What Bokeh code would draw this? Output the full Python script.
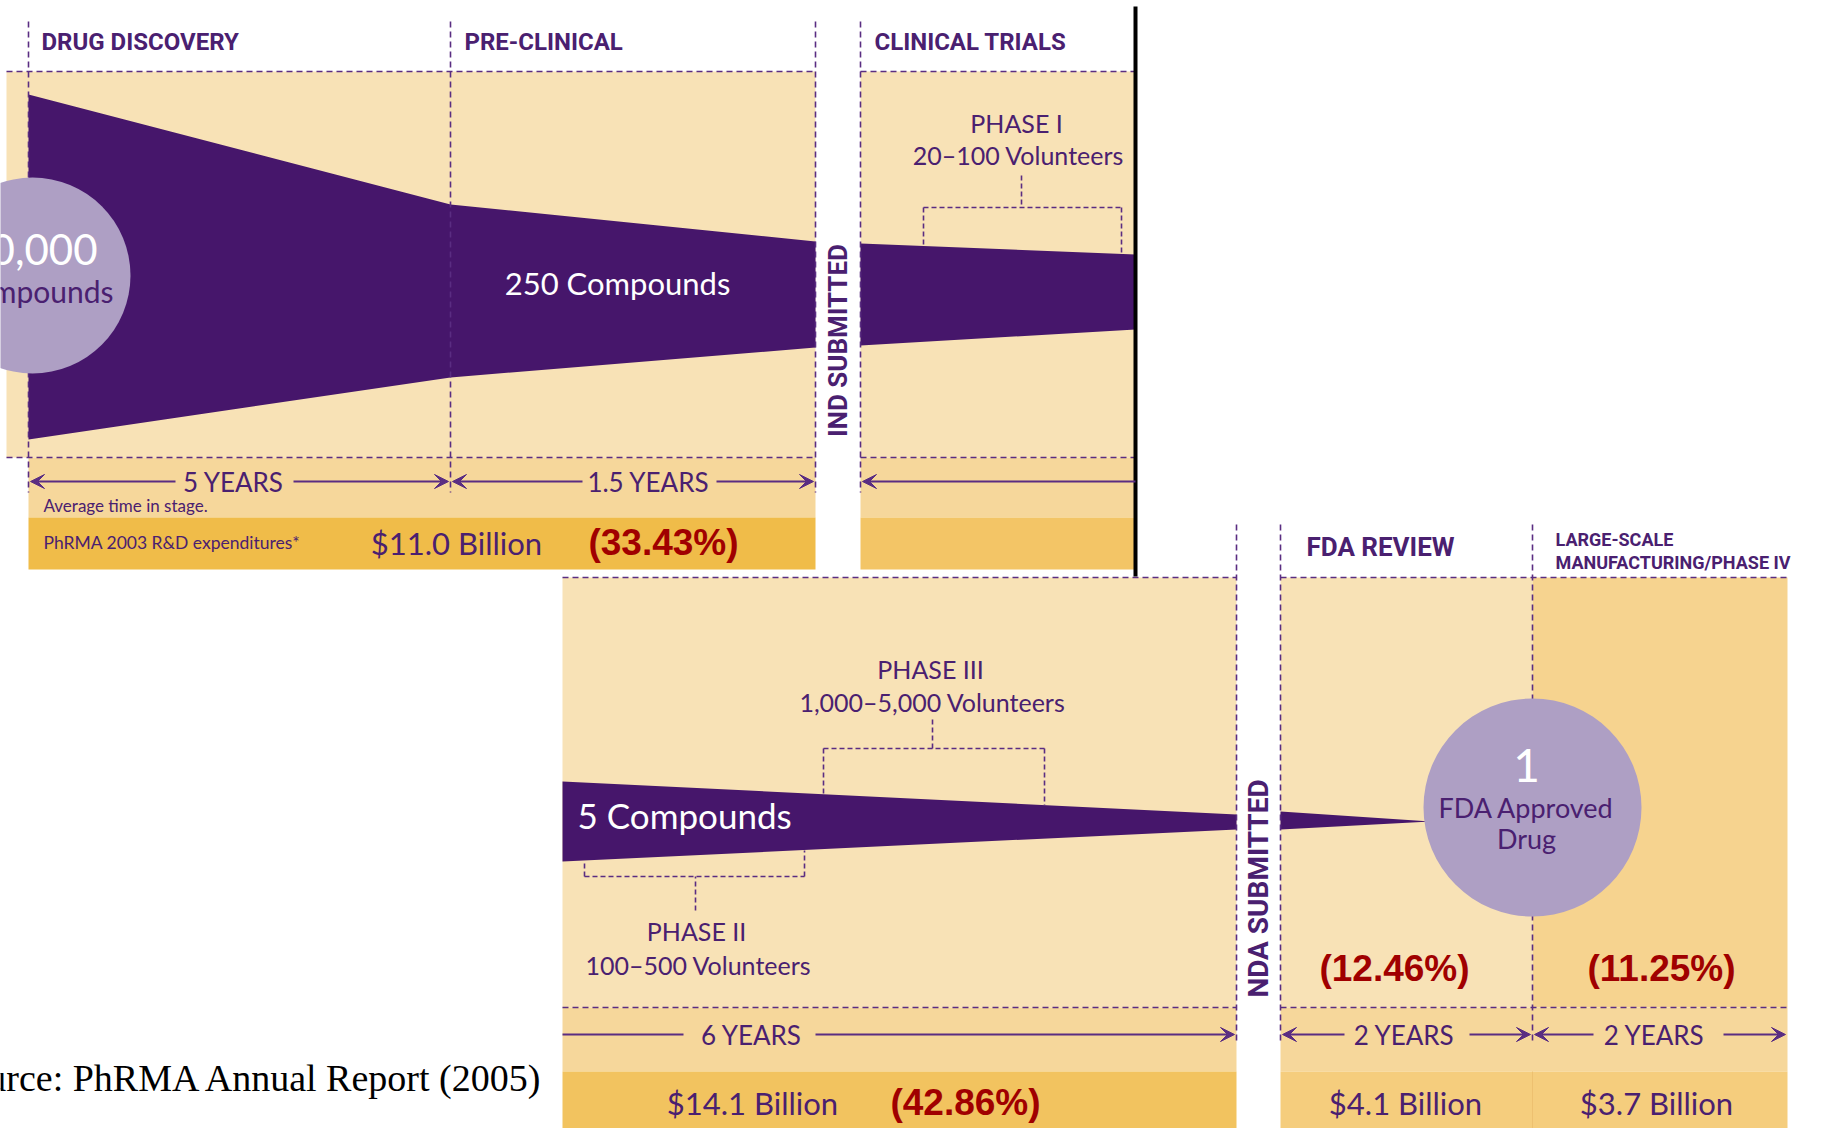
import math
from bokeh.plotting import figure
from bokeh.models import Range1d, Arrow, VeeHead
from bokeh.core.properties import value
from bokeh.embed import file_html
from bokeh.resources import INLINE

# ---------------- data ----------------
stage_names = ["DRUG DISCOVERY", "PRE-CLINICAL", "CLINICAL TRIALS", "FDA REVIEW",
               "LARGE-SCALE", "MANUFACTURING/PHASE IV"]
stage_years = ["5 YEARS", "1.5 YEARS", "6 YEARS", "2  YEARS", "2  YEARS"]
spend_labels = ["$11.0 Billion", "$14.1 Billion", "$4.1 Billion", "$3.7 Billion"]
share_labels = ["(33.43%)", "(42.86%)", "(12.46%)", "(11.25%)"]
compound_labels = ["10,000", "Compounds", "250 Compounds", "5 Compounds", "1", "FDA Approved", "Drug"]
phase_labels = ["PHASE I", "20\u2013100 Volunteers", "PHASE II", "100\u2013500 Volunteers",
                "PHASE III", "1,000\u20135,000 Volunteers"]
milestones = ["IND SUBMITTED", "NDA SUBMITTED"]
notes = ["Average time in stage.", "PhRMA 2003 R&D expenditures*", "Source: PhRMA Annual Report (2005)"]

# ---------------- layout / styles ----------------
TAN = "#F8E2B6"
TAN2 = "#F6D38F"
YROW = "#F6D79B"
EXP1 = "#F0BC49"
EXP2 = "#F3C566"
EXP3 = "#F2C35F"
EXP4 = "#F5CD7D"
PURPLE = "#46166B"
TXT = "#4A2070"
LINEP = "#5A2D82"
CIRC = "#AE9FC4"
RED = "#A00000"
BODY = value("Lato")
COND = value("Roboto")

W, H = 1825, 1128
p = figure(width=W, height=H, x_range=Range1d(0, W), y_range=Range1d(H, 0),
           toolbar_location=None, output_backend="svg", min_border=0,
           x_axis_location=None, y_axis_location=None, background_fill_color="white",
           border_fill_color="white")
p.grid.visible = False
p.outline_line_color = None

# backgrounds
p.quad(left=[6, 860], right=[815, 1135], top=[71, 71], bottom=[457, 457], fill_color=TAN, line_color=None)
p.quad(left=[28, 860], right=[815, 1135], top=[457, 457], bottom=[517, 517], fill_color=YROW, line_color=None)
p.quad(left=[28, 860], right=[815, 1135], top=[517, 517], bottom=[569, 569],
       fill_color=[EXP1, EXP2], line_color=None)

p.quad(left=[562, 1280, 1532], right=[1236, 1532, 1787], top=[577] * 3, bottom=[1007] * 3,
       fill_color=[TAN, TAN, TAN2], line_color=None)
p.quad(left=[562, 1280], right=[1236, 1787], top=[1007] * 2, bottom=[1071] * 2, fill_color=YROW, line_color=None)
p.quad(left=[562, 1280, 1532], right=[1236, 1532, 1787], top=[1071] * 3, bottom=[1130] * 3,
       fill_color=[EXP3, EXP4, EXP4], line_color=None)
p.segment(x0=[1532], y0=[1071], x1=[1532], y1=[1130], line_color="#EDC070", line_width=1)

# funnel shapes
p.patch([28, 450, 815, 815, 450, 28], [94, 204, 241, 347, 377, 439], fill_color=PURPLE, line_color=None)
p.patch([860, 1135, 1135, 860], [243, 254, 329, 345], fill_color=PURPLE, line_color=None)
p.patch([562, 1236, 1236, 562], [781, 814, 829, 861], fill_color=PURPLE, line_color=None)
p.patch([1280, 1430, 1280], [811, 821, 829], fill_color=PURPLE, line_color=None)

# dashed guides
dash = dict(line_color=LINEP, line_width=1.6, line_dash="6 4")
hx0 = [6, 860, 6, 860, 562, 1280, 562, 1280]
hx1 = [815, 1135, 815, 1135, 1236, 1787, 1236, 1787]
hy = [71, 71, 457, 457, 577, 577, 1007, 1007]
p.segment(x0=hx0, y0=hy, x1=hx1, y1=hy, **dash)
vx = [28, 450, 815, 860, 1236, 1280, 1532]
vy0 = [21, 21, 21, 21, 524, 524, 524]
vy1 = [492, 492, 492, 492, 1042, 1042, 1042]
p.segment(x0=vx, y0=vy0, x1=vx, y1=vy1, **dash)

# phase brackets
bx0 = [1021, 923, 923, 1121, 932, 823, 823, 1044, 695, 584, 584, 804]
by0 = [175, 207, 207, 207, 719, 748, 748, 748, 910, 876, 876, 876]
bx1 = [1021, 1121, 923, 1121, 932, 1044, 823, 1044, 695, 804, 584, 804]
by1 = [207, 207, 246, 253, 748, 748, 794, 805, 876, 876, 862, 850]
p.segment(x0=bx0, y0=by0, x1=bx1, y1=by1, line_color=LINEP, line_width=1.6, line_dash="5 3")

# black divider
p.segment(x0=[1135], y0=[6], x1=[1135], y1=[576], line_color="black", line_width=4)

# circles
p.circle(x=[32, 1532], y=[275, 807], radius=[98, 109], fill_color=CIRC, line_color=None)

# arrows (year spans)
arrows = [
    (175, 481, 30, 481), (293, 481, 448, 481),
    (582, 481, 452, 481), (716, 481, 813, 481),
    (1135, 481, 862, 481),
    (815, 1034, 1234, 1034),
    (1344, 1034, 1282, 1034), (1469, 1034, 1530, 1034),
    (1593, 1034, 1534, 1034), (1723, 1034, 1785, 1034),
]
for xs, ys, xe, ye in arrows:
    p.add_layout(Arrow(end=VeeHead(size=14, fill_color=LINEP, line_color=LINEP, line_width=1),
                       x_start=xs, y_start=ys, x_end=xe, y_end=ye,
                       line_color=LINEP, line_width=2))
p.segment(x0=[562], y0=[1034], x1=[683], y1=[1034], line_color=LINEP, line_width=2)

# ---------------- texts ----------------
# stage headers
p.text(x=[41, 464, 874], y=[41, 41, 41], text=stage_names[:3], text_font=COND,
       text_font_style="bold", text_font_size="24px", text_color=TXT, text_baseline="middle")
p.text(x=[1306], y=[546], text=[stage_names[3]], text_font=COND,
       text_font_style="bold", text_font_size="26px", text_color=TXT, text_baseline="middle")
p.text(x=[1555, 1555], y=[539, 562], text=stage_names[4:], text_font=COND,
       text_font_style="bold", text_font_size="18px", text_color=TXT, text_baseline="middle")
# milestones (vertical)
p.text(x=[837, 1258], y=[340, 888], text=milestones, angle=math.pi / 2, text_font=COND,
       text_font_style="bold", text_font_size=["26px", "28px"], text_color=TXT,
       text_align="center", text_baseline="middle")

# compound counts
p.text(x=[97], y=[249], text=[compound_labels[0]], text_font=BODY, text_font_size="42px",
       text_color="white", text_align="right", text_baseline="middle")
p.text(x=[113], y=[290], text=[compound_labels[1]], text_font=BODY, text_font_size="30px",
       text_color=TXT, text_align="right", text_baseline="middle")
p.text(x=[617], y=[282], text=[compound_labels[2]], text_font=BODY, text_font_size="31px",
       text_color="white", text_align="center", text_baseline="middle")
p.text(x=[577], y=[814], text=[compound_labels[3]], text_font=BODY, text_font_size="35px",
       text_color="white", text_align="left", text_baseline="middle")
p.text(x=[1526], y=[765], text=[compound_labels[4]], text_font=BODY, text_font_size="46px",
       text_color="white", text_align="center", text_baseline="middle")
p.text(x=[1526, 1526], y=[807, 838], text=compound_labels[5:], text_font=BODY, text_font_size="27px",
       text_color=TXT, text_align="center", text_baseline="middle")

# phases
p.text(x=[1016, 1018, 696, 698, 930, 932], y=[122, 154, 930, 964, 668, 701], text=phase_labels,
       text_font=BODY, text_font_size="25px", text_color=TXT, text_align="center", text_baseline="middle")

# years
p.text(x=[233, 648, 751, 1407, 1657], y=[481, 481, 1034, 1034, 1034], text=stage_years,
       text_font=BODY, text_font_size="26px", text_color=TXT, text_align="center", text_baseline="middle")

# notes
p.text(x=[43], y=[505], text=[notes[0]], text_font=BODY, text_font_size="17px", text_color=TXT,
       text_baseline="middle")
p.text(x=[43], y=[542], text=[notes[1]], text_font=BODY, text_font_size="17.5px", text_color=TXT,
       text_baseline="middle")
p.text(x=[544], y=[1077], text=[notes[2]], text_font=value("Liberation Serif"), text_font_size="38px",
       text_color="black", text_align="right", text_baseline="middle")

# spend and share
p.text(x=[456, 752, 1405, 1656], y=[542, 1102, 1102, 1102], text=spend_labels,
       text_font=BODY, text_font_size="31px", text_color=TXT, text_align="center", text_baseline="middle")
p.text(x=[663, 965, 1394, 1661], y=[542, 1102, 968, 968], text=share_labels,
       text_font=value("Liberation Sans"), text_font_style="bold", text_font_size="37px",
       text_color=RED, text_align="center", text_baseline="middle")

open("out.html", "w").write(file_html(p, INLINE))
